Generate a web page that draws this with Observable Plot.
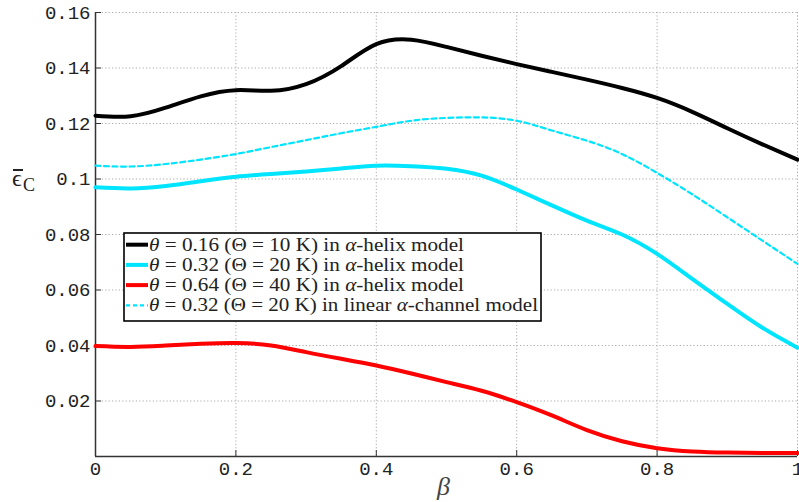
<!DOCTYPE html>
<html>
<head>
<meta charset="utf-8">
<script src="https://cdn.jsdelivr.net/npm/d3@7"></script>
<script src="https://cdn.jsdelivr.net/npm/@observablehq/plot@0.6"></script>
<style>
  html, body { margin: 0; padding: 0; background: white; }
  #wrap { position: relative; width: 799px; height: 502px; overflow: hidden; }
  .lab { position: absolute; font-family: "Liberation Serif", serif; color: #222; line-height: 1; white-space: nowrap; }
  #legend { position: absolute; left: 123px; top: 232px; }
</style>
</head>
<body>
<div id="wrap">
  <div id="chart"></div>
  <div class="lab" style="left:12px;top:166px;font-size:24px;">ϵ</div>
  <div style="position:absolute;left:13px;top:169px;width:10px;height:1.5px;background:#222;"></div>
  <div class="lab" style="left:23px;top:176px;font-size:18px;">C</div>
  <div class="lab" style="left:437px;top:474px;font-size:26px;font-style:italic;color:#444;">β</div>
  <svg id="legend" width="420" height="91"></svg>
</div>
<script>
const beta = [0, 0.05, 0.1, 0.15, 0.2, 0.25, 0.3, 0.35, 0.4, 0.45, 0.5, 0.55, 0.6, 0.65, 0.7, 0.75, 0.8, 0.85, 0.9, 0.95, 1];
const helix016 = [0.1228, 0.1226, 0.1257, 0.1298, 0.1320, 0.1318, 0.1342, 0.1407, 0.1486, 0.1502, 0.1476, 0.1444, 0.1414, 0.1386, 0.1358, 0.1328, 0.1292, 0.1242, 0.1183, 0.1125, 0.1070];
const helix032 = [0.0970, 0.0966, 0.0975, 0.0992, 0.1008, 0.1018, 0.1027, 0.1038, 0.1048, 0.1046, 0.1037, 0.1012, 0.0962, 0.0905, 0.0850, 0.0800, 0.0730, 0.0640, 0.0550, 0.0464, 0.0392];
const helix064 = [0.0398, 0.0395, 0.0400, 0.0406, 0.0409, 0.0400, 0.0376, 0.0352, 0.0328, 0.0299, 0.0268, 0.0237, 0.0196, 0.0148, 0.0095, 0.0055, 0.0030, 0.0018, 0.0014, 0.0013, 0.0013];
const linear032 = [0.1048, 0.1045, 0.1054, 0.1070, 0.1090, 0.1115, 0.1140, 0.1165, 0.1188, 0.1210, 0.1220, 0.1222, 0.1210, 0.1175, 0.1138, 0.1090, 0.1022, 0.0945, 0.0862, 0.0778, 0.0694];
const xTicks = [0, 0.2, 0.4, 0.6, 0.8, 1];
const yTicks = [0.02, 0.04, 0.06, 0.08, 0.1, 0.12, 0.14, 0.16];
const legendLabels = [
  ["θ", " = 0.16 (Θ = 10 K) in ", "α", "-helix model"],
  ["θ", " = 0.32 (Θ = 20 K) in ", "α", "-helix model"],
  ["θ", " = 0.64 (Θ = 40 K) in ", "α", "-helix model"],
  ["θ", " = 0.32 (Θ = 20 K) in linear ", "α", "-channel model"]
];
const cyan = "#00e5ff";
const series = [
  {values: helix016, stroke: "black", width: 4, dash: null},
  {values: helix032, stroke: cyan, width: 4, dash: null},
  {values: helix064, stroke: "#ff0000", width: 4, dash: null},
  {values: linear032, stroke: cyan, width: 2.2, dash: "5,3.5"}
];
const toRows = vals => beta.map((b, i) => ({beta: b, v: vals[i]}));
const fmt = d => d3.format("")(d);
const gridStyle = {stroke: "#aaa", strokeOpacity: 1, strokeDasharray: "1.2,2.2", strokeWidth: 1};

const chart = Plot.plot({
  width: 799, height: 502,
  marginLeft: 95, marginRight: 2, marginTop: 12, marginBottom: 46,
  x: {domain: [0, 1]},
  y: {domain: [0, 0.16]},
  style: {fontFamily: "'Liberation Mono', monospace", fontSize: "19px", color: "#222", background: "white"},
  marks: [
    Plot.gridX(xTicks.filter(d => d > 0), gridStyle),
    Plot.gridY(yTicks, gridStyle),
    Plot.ruleY([0], {stroke: "#333", strokeWidth: 1.5}),
    Plot.ruleX([0], {stroke: "#333", strokeWidth: 1.5}),
    Plot.axisX(xTicks, {tickSize: -6, tickPadding: 11, tickFormat: fmt, label: null, stroke: "#333"}),
    Plot.axisY(yTicks, {tickSize: -6, tickPadding: 11, tickFormat: fmt, label: null, stroke: "#333"}),
    ...series.map(s => Plot.line(toRows(s.values), {x: "beta", y: "v", stroke: s.stroke, strokeWidth: s.width, strokeDasharray: s.dash, curve: "natural"}))
  ]
});
document.getElementById("chart").appendChild(chart);

// legend
const svg = d3.select("#legend");
svg.append("rect").attr("x", 1).attr("y", 1).attr("width", 417).attr("height", 88)
  .attr("fill", "white").attr("stroke", "black").attr("stroke-width", 1.6);
const rowY = [12.7, 32.9, 53.1, 73.3];
const widths = [315, 315, 315, 389];
series.forEach((s, i) => {
  svg.append("line").attr("x1", 3).attr("x2", 25).attr("y1", rowY[i]).attr("y2", rowY[i])
    .attr("stroke", s.stroke).attr("stroke-width", s.dash ? 2.2 : 4).attr("stroke-dasharray", s.dash ? "4,3" : null);
  const t = svg.append("text").attr("x", 26).attr("y", rowY[i] + 6)
    .attr("font-family", "'Liberation Serif', serif").attr("font-size", 19).attr("fill", "#222")
    .attr("textLength", widths[i]).attr("lengthAdjust", "spacingAndGlyphs");
  legendLabels[i].forEach((p, j) => {
    t.append("tspan").attr("font-style", (j % 2 === 0) ? "italic" : "normal").text(p);
  });
});
</script>
</body>
</html>
